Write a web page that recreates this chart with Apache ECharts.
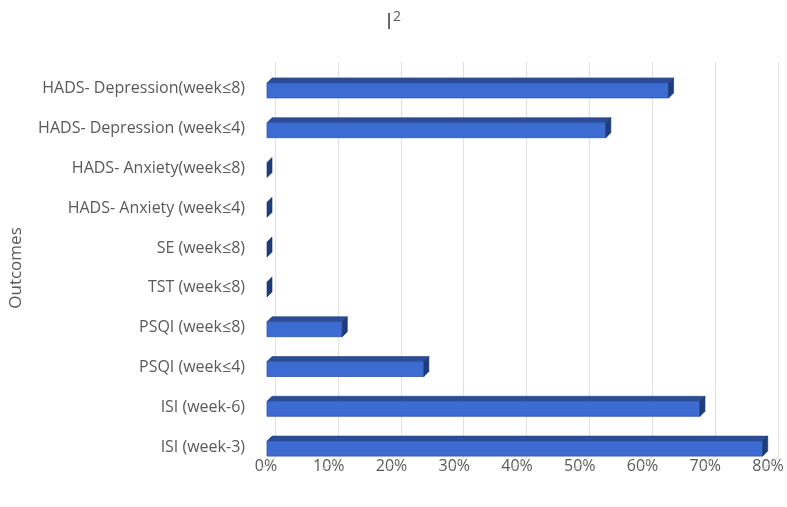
<html>
<head>
<meta charset="utf-8">
<title>I2</title>
<style>html,body{margin:0;padding:0;background:#fff;}</style>
</head>
<body>
<div id="main" style="width:787px;height:507px;"></div>
<script src="https://cdn.jsdelivr.net/npm/echarts@6/dist/echarts.min.js"></script>
<script>
// categories top to bottom as in the picture
var outcomes = ['HADS- Depression(week≤8)', 'HADS- Depression (week≤4)', 'HADS- Anxiety(week≤8)',
  'HADS- Anxiety (week≤4)', 'SE (week≤8)', 'TST (week≤8)', 'PSQI (week≤8)', 'PSQI (week≤4)',
  'ISI (week-6)', 'ISI (week-3)'];
var i2Values = [64, 54, 0, 0, 0, 0, 12, 25, 69, 79];
var xTicks = [0, 10, 20, 30, 40, 50, 60, 70, 80];

var font = 'Open Sans';
var textColor = '#595959';
var gridColor = '#e0e0e0';

var chart = echarts.init(document.getElementById('main'));

// 3D looking bar: front face, top face and right side face
function renderBar(params, api) {
  var v = api.value(0);
  var c = api.value(1);
  var p0 = api.coord([0, c]);
  var p1 = api.coord([v, c]);
  var dx = 5, dy = 5;
  var x0 = p0[0] + 1, x1 = p1[0] + 1;
  var yt = p0[1] - 6, yb = p0[1] + 9;
  var kids = [];
  if (x1 - x0 > 0.5) {
    kids.push({
      type: 'polygon',
      shape: {points: [[x0, yt], [x0 + dx, yt - dy], [x1 + dx, yt - dy], [x1, yt]]},
      style: {fill: '#2b4c98', stroke: '#243f80', lineWidth: 0.6}
    });
    kids.push({
      type: 'rect',
      shape: {x: x0, y: yt, width: x1 - x0, height: yb - yt},
      style: {fill: '#3c6bd2', stroke: '#2e55aa', lineWidth: 0.8}
    });
  }
  kids.push({
    type: 'polygon',
    shape: {points: [[x1, yt], [x1 + dx, yt - dy], [x1 + dx, yb - dy], [x1, yb]]},
    style: {fill: '#1f3c7c', stroke: '#1a3367', lineWidth: 0.6}
  });
  return {type: 'group', children: kids};
}

// floor part of the gridlines, slanting from the back wall toward the viewer
function renderFloor(params, api) {
  var p = api.coord([api.value(0), api.value(1)]);
  var bx = p[0] + 10, by = p[1] + 10;
  return {
    type: 'line',
    shape: {x1: bx, y1: by, x2: bx - 15, y2: by + 12},
    style: {stroke: '#d8d8d8', lineWidth: 1}
  };
}

var option = {
  backgroundColor: '#fff',
  animation: false,
  title: {
    text: 'I{sup|2}',
    left: 'center',
    top: 5,
    textStyle: {
      fontFamily: font, fontSize: 22, fontWeight: 'normal', color: textColor,
      rich: {sup: {fontFamily: font, fontSize: 14, color: textColor, verticalAlign: 'top', padding: [0, 0, 12, 1]}}
    }
  },
  grid: [
    {left: 265, right: 19, top: 69, bottom: 40},
    {left: 275, right: 9, top: 62, bottom: 50}
  ],
  xAxis: [
    {
      gridIndex: 0, type: 'value', min: 0, max: 80, interval: 10,
      axisLine: {show: false}, axisTick: {show: false}, splitLine: {show: false},
      axisLabel: {margin: -9, color: textColor, fontFamily: font, fontSize: 16,
        formatter: function (v) { return v + '%'; }}
    },
    {
      gridIndex: 1, type: 'value', min: 0, max: 80, interval: 10,
      axisLine: {show: false}, axisTick: {show: false}, axisLabel: {show: false},
      splitLine: {show: true, lineStyle: {color: gridColor, width: 1}}
    }
  ],
  yAxis: [
    {
      gridIndex: 0, type: 'category', data: outcomes, inverse: true,
      axisLine: {show: false}, axisTick: {show: false},
      axisLabel: {margin: 21, color: textColor, fontFamily: font, fontSize: 16},
      name: 'Outcomes', nameLocation: 'middle', nameGap: 241, nameRotate: 90,
      nameTextStyle: {color: textColor, fontFamily: font, fontSize: 17}
    },
    {
      gridIndex: 1, type: 'value', min: 0, max: 1, show: false
    }
  ],
  series: [
    {
      type: 'custom',
      xAxisIndex: 0,
      yAxisIndex: 0,
      renderItem: renderFloor,
      encode: {x: 0, y: 1},
      data: xTicks.map(function (t) { return [t, outcomes.length - 1]; }),
      z: 1
    },
    {
      type: 'custom',
      xAxisIndex: 0,
      yAxisIndex: 0,
      renderItem: renderBar,
      encode: {x: 0, y: 1},
      data: i2Values.map(function (v, i) { return [v, i]; }),
      z: 2
    }
  ]
};

chart.setOption(option);
</script>
</body>
</html>
